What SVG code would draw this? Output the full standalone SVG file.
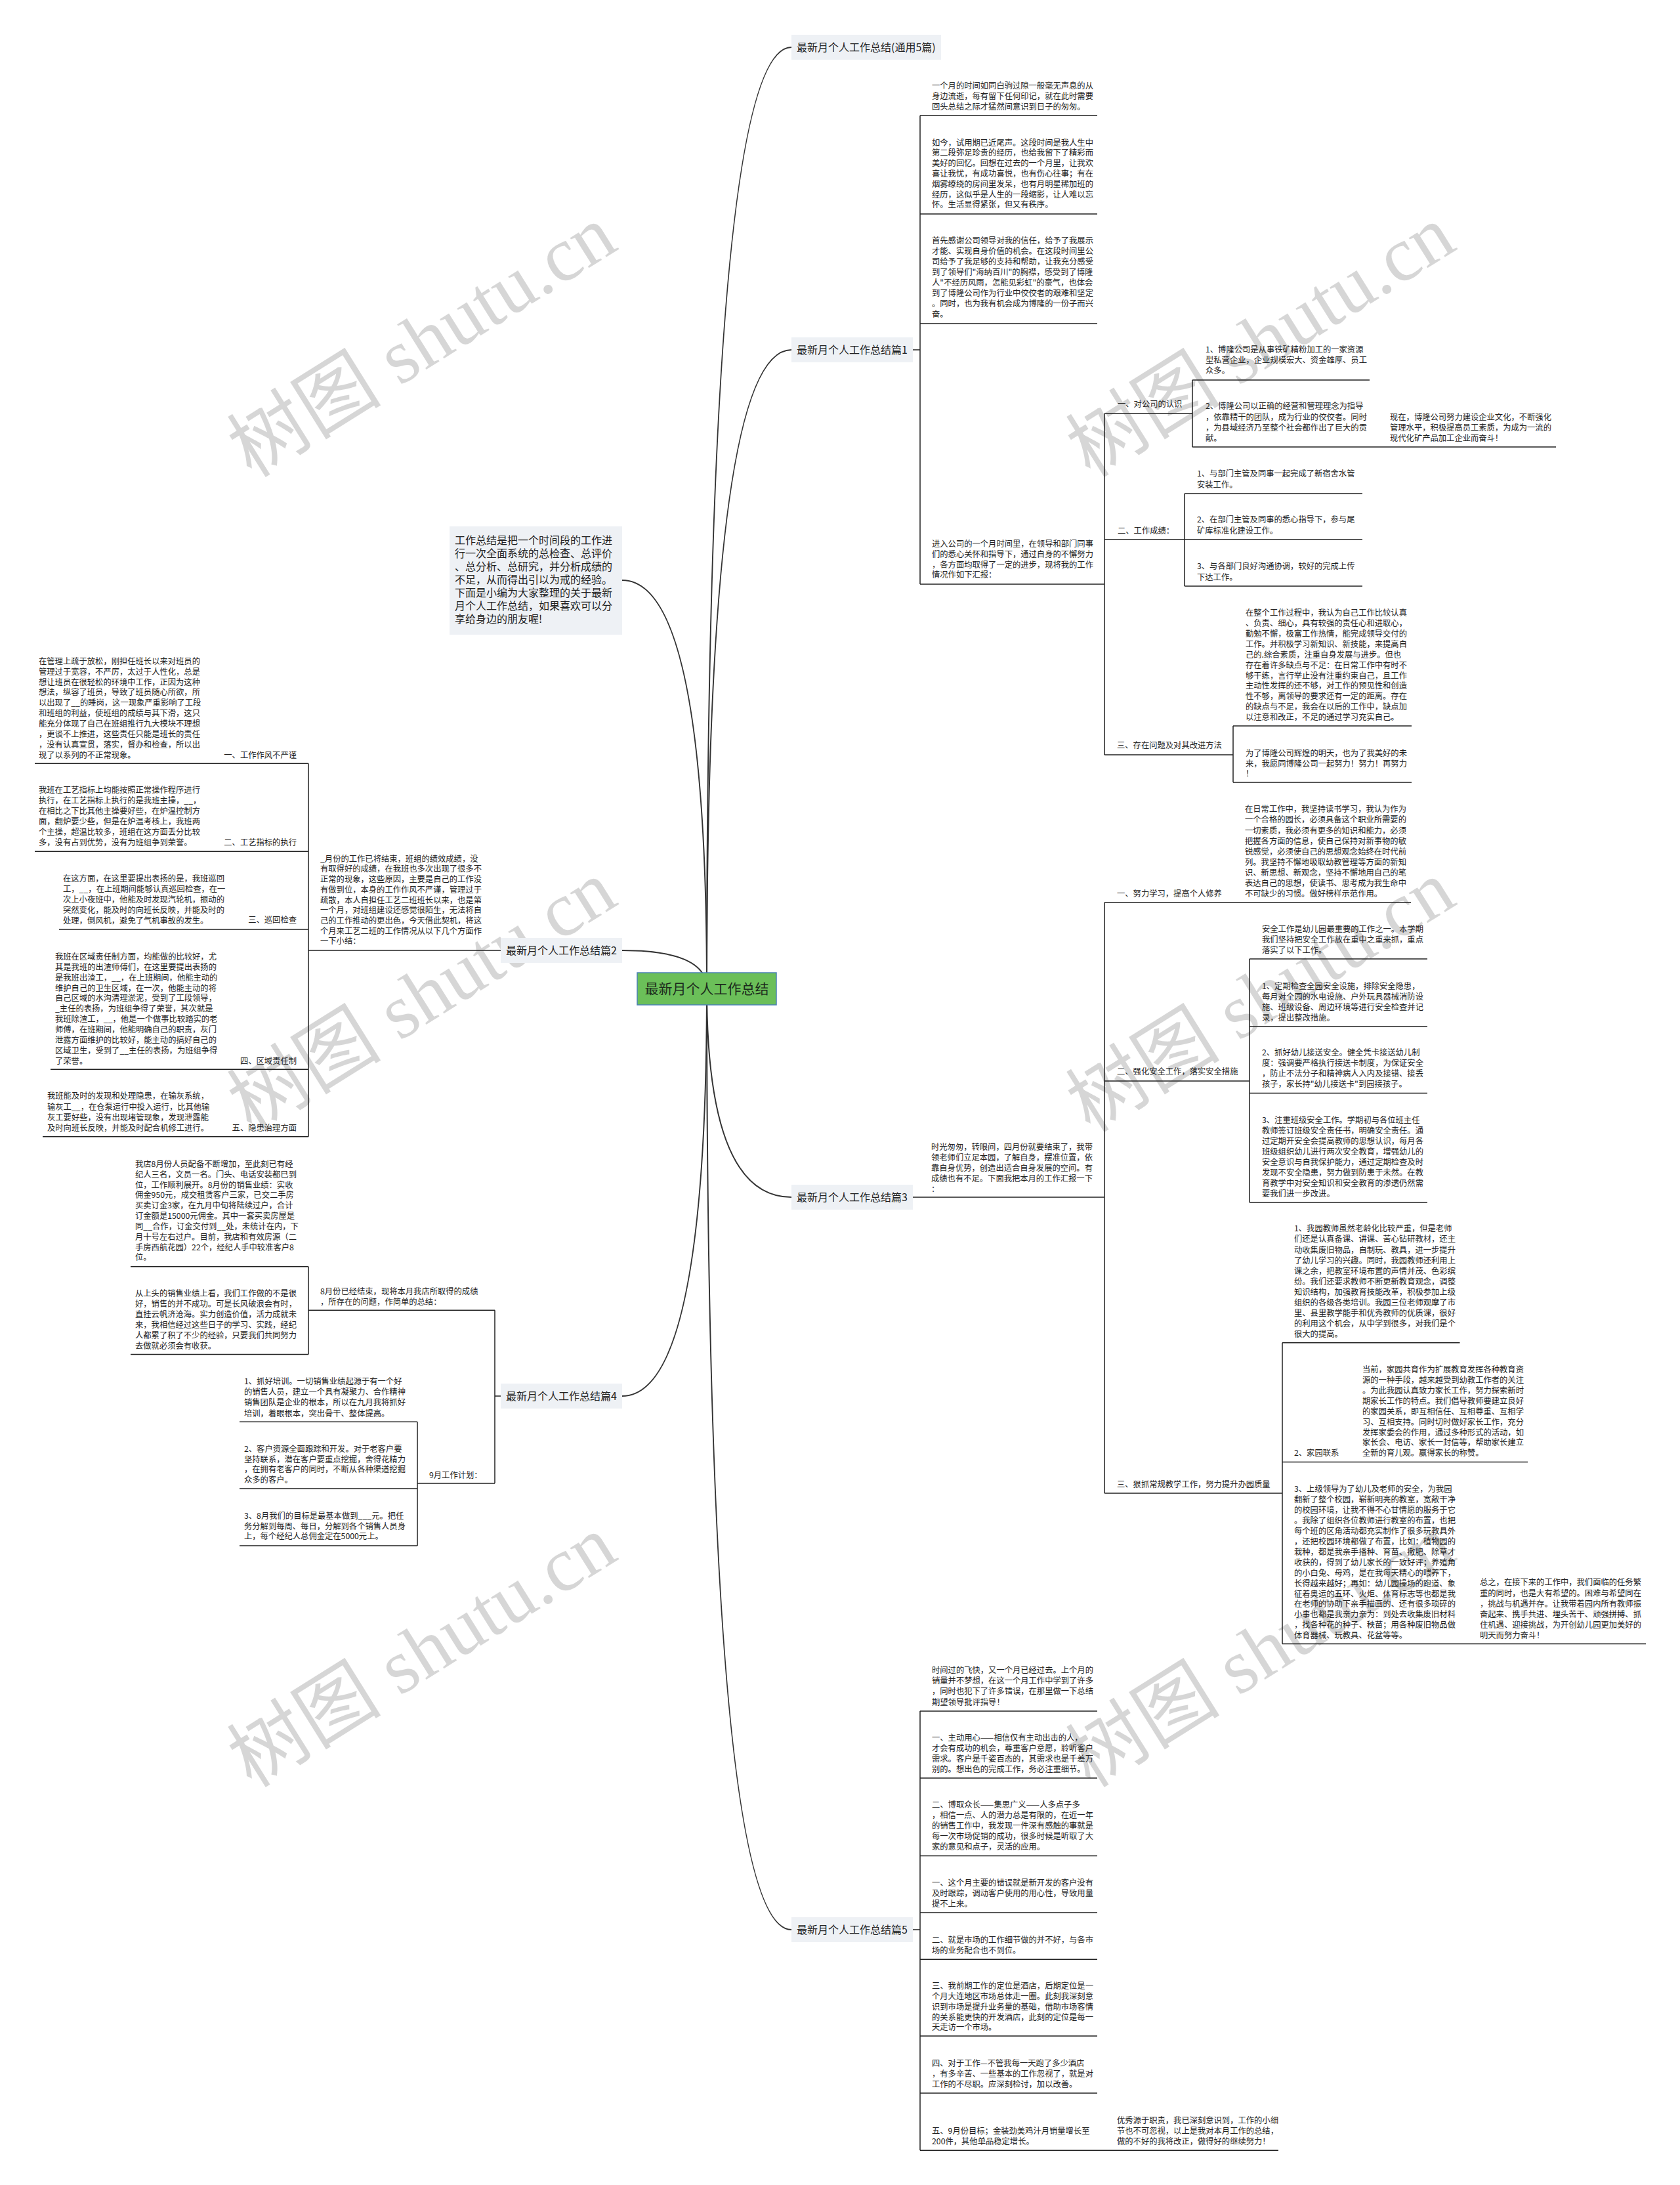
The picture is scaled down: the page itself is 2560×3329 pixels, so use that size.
<svg xmlns="http://www.w3.org/2000/svg" width="2560" height="3329" viewBox="0 0 2560 3329">
<style>
.t{font-family:"Noto Sans CJK SC","Liberation Sans",sans-serif;font-size:12.3px;fill:#222}
.lb{font-family:"Noto Sans CJK SC","Liberation Sans",sans-serif;font-size:16px;fill:#222}
.ln{fill:none;stroke:#222;stroke-width:1.5}
.cv{fill:none;stroke:#333;stroke-width:2}
.box{fill:#eef1f5}
.wm{font-family:"Liberation Serif","Noto Sans CJK SC",serif;font-size:118px;fill:#000;fill-opacity:0.16}
</style>
<rect width="2560" height="3329" fill="#fff"/>
<g id="watermarks">
<text class="wm" text-anchor="middle" transform="translate(643,520) rotate(-32)" y="40">树图 shutu.cn</text>
<text class="wm" text-anchor="middle" transform="translate(1921,520) rotate(-32)" y="40">树图 shutu.cn</text>
<text class="wm" text-anchor="middle" transform="translate(643,1518) rotate(-32)" y="40">树图 shutu.cn</text>
<text class="wm" text-anchor="middle" transform="translate(1921,1518) rotate(-32)" y="40">树图 shutu.cn</text>
<text class="wm" text-anchor="middle" transform="translate(643,2516) rotate(-32)" y="40">树图 shutu.cn</text>
<text class="wm" text-anchor="middle" transform="translate(1921,2516) rotate(-32)" y="40">树图 shutu.cn</text>
</g>
<g id="connectors">
<path class="cv" d="M1077,1506 Q1077,72 1206,72"/>
<path class="cv" d="M1077,1506 Q1077,533 1206,533"/>
<path class="cv" d="M1077,1506 Q1077,884 948,884"/>
<path class="cv" d="M1077,1506 Q1077,1448 948,1448"/>
<path class="cv" d="M1077,1506 Q1077,1824 1206,1824"/>
<path class="cv" d="M1077,1506 Q1077,2940 1206,2940"/>
<path class="cv" d="M1077,1506 Q1077,2127 948,2127"/>
<path class="ln" d="M1391,533H1402M1402,176V890M1402,176H1672M1402,326H1672M1402,493H1672M1402,890H1683M1683,630V1150M1683,630H1817M1817,579V681M1817,579H2087M1817,681H2371M1683,822H1805M1805,752V893M1805,752H2076M1805,822H2076M1805,893H2076M1683,1150H1879M1879,1106V1192M1879,1106H2151M1879,1192H2151"/>
<path class="ln" d="M1391,1824H1683M1683,1375V2275M1683,1375H2150M1683,1647H1904M1904,1461V1832M1904,1461H2175M1904,1564H2175M1904,1665.6H2175M1904,1832H2175M1683,2275H1954M1954,2045.7V2504.5M1954,2045.7H2224.5M1954,2227.5H2328M1954,2504.5H2508"/>
<path class="ln" d="M1391,2940H1402M1402,2607V3276.2M1402,2607H1672M1402,2709H1672M1402,2827.5H1672M1402,2914H1672M1402,2985.2H1672M1402,3102H1672M1402,3189H1672M1402,3276.2H1948"/>
<path class="ln" d="M470,1448H763M470,1163.3V1731.7M53,1163.3H470M53,1297.3H470M90,1416H470M77,1629.3H470M65,1731.7H470"/>
<path class="ln" d="M754,2127H763M754,1996.2V2260M470,1996.2H754M470,1929.8V2063.4M199,1929.8H470M199,2063.4H470M636,2260H754M636,2166.3V2355M365,2166.3H636M365,2267.9H636M365,2355H636"/>
</g>
<g id="center">
<rect x="971" y="1482" width="212" height="49" fill="#6bbf59" stroke="#4a80b4" stroke-width="1.5"/>
<text x="1077" y="1514" text-anchor="middle" style="font-family:'Noto Sans CJK SC','Liberation Sans',sans-serif;font-size:21px;fill:#1c2b1c">最新月个人工作总结</text>
</g>
<g id="title">
<rect class="box" x="1206" y="53" width="228" height="38"/>
<text class="lb" x="1214" y="77.7">最新月个人工作总结(通用5篇)</text>
</g>
<g id="intro">
<rect class="box" x="685" y="802" width="263" height="165"/>
<text class="lb" x="693" y="829"><tspan x="693">工作总结是把一个时间段的工作进</tspan><tspan x="693" dy="20">行一次全面系统的总检查、总评价</tspan><tspan x="693" dy="20">、总分析、总研究，并分析成绩的</tspan><tspan x="693" dy="20">不足，从而得出引以为戒的经验。</tspan><tspan x="693" dy="20">下面是小编为大家整理的关于最新</tspan><tspan x="693" dy="20">月个人工作总结，如果喜欢可以分</tspan><tspan x="693" dy="20">享给身边的朋友喔!</tspan></text>
</g>
<g id="p1">
<rect class="box" x="1206" y="514" width="185" height="38"/>
<text class="lb" x="1214" y="538.7">最新月个人工作总结篇1</text>
<text class="t" y="135.2"><tspan x="1420">一个月的时间如同白驹过隙一般毫无声息的从</tspan><tspan x="1420" dy="15.7">身边流逝，每有留下任何印记，就在此时需要</tspan><tspan x="1420" dy="15.7">回头总结之际才猛然间意识到日子的匆匆。</tspan></text>
<text class="t" y="221.5"><tspan x="1420">如今，试用期已近尾声。这段时间是我人生中</tspan><tspan x="1420" dy="15.83">第二段弥足珍贵的经历，也给我留下了精彩而</tspan><tspan x="1420" dy="15.83">美好的回忆。回想在过去的一个月里，让我欢</tspan><tspan x="1420" dy="15.83">喜让我忧，有成功喜悦，也有伤心往事；有在</tspan><tspan x="1420" dy="15.83">烟雾缭绕的房间里发呆，也有月明星稀加班的</tspan><tspan x="1420" dy="15.83">经历，这似乎是人生的一段缩影，让人难以忘</tspan><tspan x="1420" dy="15.83">怀。生活显得紧张，但又有秩序。</tspan></text>
<text class="t" y="371.4"><tspan x="1420">首先感谢公司领导对我的信任，给予了我展示</tspan><tspan x="1420" dy="16">才能、实现自身价值的机会。在这段时间里公</tspan><tspan x="1420" dy="16">司给予了我足够的支持和帮助，让我充分感受</tspan><tspan x="1420" dy="16">到了领导们"海纳百川"的胸襟，感受到了博隆</tspan><tspan x="1420" dy="16">人"不经历风雨，怎能见彩虹"的豪气，也体会</tspan><tspan x="1420" dy="16">到了博隆公司作为行业中佼佼者的艰难和坚定</tspan><tspan x="1420" dy="16">。同时，也为我有机会成为博隆的一份子而兴</tspan><tspan x="1420" dy="16">奋。</tspan></text>
<text class="t" y="833.4"><tspan x="1420">进入公司的一个月时间里，在领导和部门同事</tspan><tspan x="1420" dy="15.67">们的悉心关怀和指导下，通过自身的不懈努力</tspan><tspan x="1420" dy="15.67">，各方面均取得了一定的进步，现将我的工作</tspan><tspan x="1420" dy="15.67">情况作如下汇报：</tspan></text>
<text class="t" x="1703" y="620.4">一、对公司的认识</text>
<text class="t" y="537.4"><tspan x="1837">1、博隆公司是从事铁矿精粉加工的一家资源</tspan><tspan x="1837" dy="16">型私营企业，企业规模宏大、资金雄厚、员工</tspan><tspan x="1837" dy="16">众多。</tspan></text>
<text class="t" y="623.4"><tspan x="1837">2、博隆公司以正确的经营和管理理念为指导</tspan><tspan x="1837" dy="16.3">，依靠精干的团队，成为行业的佼佼者。同时</tspan><tspan x="1837" dy="16.3">，为县域经济乃至整个社会都作出了巨大的贡</tspan><tspan x="1837" dy="16.3">献。</tspan></text>
<text class="t" y="640"><tspan x="2118">现在，博隆公司努力建设企业文化，不断强化</tspan><tspan x="2118" dy="16.05">管理水平，积极提高员工素质，为成为一流的</tspan><tspan x="2118" dy="16.05">现代化矿产品加工企业而奋斗！</tspan></text>
<text class="t" x="1703" y="813.4">二、工作成绩：</text>
<text class="t" y="726.4"><tspan x="1824">1、与部门主管及同事一起完成了新宿舍水管</tspan><tspan x="1824" dy="16.4">安装工作。</tspan></text>
<text class="t" y="796.4"><tspan x="1824">2、在部门主管及同事的悉心指导下，参与尾</tspan><tspan x="1824" dy="16.4">矿库标准化建设工作。</tspan></text>
<text class="t" y="867.4"><tspan x="1824">3、与各部门良好沟通协调，较好的完成上传</tspan><tspan x="1824" dy="16.4">下达工作。</tspan></text>
<text class="t" x="1702" y="1140.4">三、存在问题及对其改进方法</text>
<text class="t" y="938.4"><tspan x="1898">在整个工作过程中，我认为自己工作比较认真</tspan><tspan x="1898" dy="15.85">、负责、细心，具有较强的责任心和进取心，</tspan><tspan x="1898" dy="15.85">勤勉不懈，极富工作热情，能完成领导交付的</tspan><tspan x="1898" dy="15.85">工作。并积极学习新知识、新技能，来提高自</tspan><tspan x="1898" dy="15.85">己的.综合素质，注重自身发展与进步。但也</tspan><tspan x="1898" dy="15.85">存在着许多缺点与不足：在日常工作中有时不</tspan><tspan x="1898" dy="15.85">够干练，言行举止没有注重约束自己，且工作</tspan><tspan x="1898" dy="15.85">主动性发挥的还不够，对工作的预见性和创造</tspan><tspan x="1898" dy="15.85">性不够，离领导的要求还有一定的距离。存在</tspan><tspan x="1898" dy="15.85">的缺点与不足，我会在以后的工作中，缺点加</tspan><tspan x="1898" dy="15.85">以注意和改正，不足的通过学习充实自己。</tspan></text>
<text class="t" y="1152.4"><tspan x="1898">为了博隆公司辉煌的明天，也为了我美好的未</tspan><tspan x="1898" dy="15.5">来，我愿同博隆公司一起努力！努力！再努力</tspan><tspan x="1898" dy="15.5">！</tspan></text>
</g>
<g id="p3">
<rect class="box" x="1206" y="1805" width="185" height="38"/>
<text class="lb" x="1214" y="1829.7">最新月个人工作总结篇3</text>
<text class="t" y="1752.4"><tspan x="1419">时光匆匆，转眼间，四月份就要结束了，我带</tspan><tspan x="1419" dy="15.9">领老师们立足本园，了解自身，摆准位置，依</tspan><tspan x="1419" dy="15.9">靠自身优势，创造出适合自身发展的空间。有</tspan><tspan x="1419" dy="15.9">成绩也有不足。下面我把本月的工作汇报一下</tspan><tspan x="1419" dy="15.9">：</tspan></text>
<text class="t" x="1702" y="1366.1">一、努力学习，提高个人修养</text>
<text class="t" y="1237.4"><tspan x="1897">在日常工作中，我坚持读书学习，我认为作为</tspan><tspan x="1897" dy="16.08">一个合格的园长，必须具备这个职业所需要的</tspan><tspan x="1897" dy="16.08">一切素质，我必须有更多的知识和能力，必须</tspan><tspan x="1897" dy="16.08">把握各方面的信息，使自己保持对新事物的敏</tspan><tspan x="1897" dy="16.08">锐感觉，必须使自己的思想观念始终在时代前</tspan><tspan x="1897" dy="16.08">列。我坚持不懈地吸取幼教管理等方面的新知</tspan><tspan x="1897" dy="16.08">识、新思想、新观念，坚持不懈地用自己的笔</tspan><tspan x="1897" dy="16.08">表达自己的思想，使读书、思考成为我生命中</tspan><tspan x="1897" dy="16.08">不可缺少的习惯。做好榜样示范作用。</tspan></text>
<text class="t" x="1702" y="1637.4">二、强化安全工作，落实安全措施</text>
<text class="t" y="1420"><tspan x="1923">安全工作是幼儿园最重要的工作之一。本学期</tspan><tspan x="1923" dy="16.2">我们坚持把安全工作放在重中之重来抓，重点</tspan><tspan x="1923" dy="16.2">落实了以下工作。</tspan></text>
<text class="t" y="1507.1"><tspan x="1923">1、定期检查全园安全设施，排除安全隐患，</tspan><tspan x="1923" dy="15.87">每月对全园的水电设施、户外玩具器械消防设</tspan><tspan x="1923" dy="15.87">施、班级设备、周边环境等进行安全检查并记</tspan><tspan x="1923" dy="15.87">录，提出整改措施。</tspan></text>
<text class="t" y="1608.4"><tspan x="1923">2、抓好幼儿接送安全。健全凭卡接送幼儿制</tspan><tspan x="1923" dy="16">度：强调要严格执行接送卡制度，为保证安全</tspan><tspan x="1923" dy="16">，防止不法分子和精神病人入内及接错、接丢</tspan><tspan x="1923" dy="16">孩子，家长持"幼儿接送卡"到园接孩子。</tspan></text>
<text class="t" y="1711"><tspan x="1923">3、注重班级安全工作。学期初与各位班主任</tspan><tspan x="1923" dy="16">教师签订班级安全责任书，明确安全责任。通</tspan><tspan x="1923" dy="16">过定期开安全会提高教师的思想认识，每月各</tspan><tspan x="1923" dy="16">班级组织幼儿进行两次安全教育，增强幼儿的</tspan><tspan x="1923" dy="16">安全意识与自我保护能力，通过定期检查及时</tspan><tspan x="1923" dy="16">发现不安全隐患，努力做到防患于未然。在教</tspan><tspan x="1923" dy="16">育教学中对安全知识和安全教育的渗透仍然需</tspan><tspan x="1923" dy="16">要我们进一步改进。</tspan></text>
<text class="t" x="1702" y="2266">三、狠抓常规教学工作，努力提升办园质量</text>
<text class="t" y="1876.3"><tspan x="1972">1、我园教师虽然老龄化比较严重，但是老师</tspan><tspan x="1972" dy="16.11">们还是认真备课、讲课、苦心钻研教材，还主</tspan><tspan x="1972" dy="16.11">动收集废旧物品，自制玩、教具，进一步提升</tspan><tspan x="1972" dy="16.11">了幼儿学习的兴趣。同时，我园教师还利用上</tspan><tspan x="1972" dy="16.11">课之余，把教室环境布置的声情并茂、色彩缤</tspan><tspan x="1972" dy="16.11">纷。我们还要求教师不断更新教育观念，调整</tspan><tspan x="1972" dy="16.11">知识结构，加强教育技能改革，积极参加上级</tspan><tspan x="1972" dy="16.11">组织的各级各类培训。我园三位老师观摩了市</tspan><tspan x="1972" dy="16.11">里、县里教学能手和优秀教师的优质课，很好</tspan><tspan x="1972" dy="16.11">的利用这个机会，从中学到很多，对我们是个</tspan><tspan x="1972" dy="16.11">很大的提高。</tspan></text>
<text class="t" x="1972" y="2218.4">2、家园联系</text>
<text class="t" y="2090.9"><tspan x="2076">当前，家园共育作为扩展教育发挥各种教育资</tspan><tspan x="2076" dy="15.94">源的一种手段，越来越受到幼教工作者的关注</tspan><tspan x="2076" dy="15.94">。为此我园认真致力家长工作，努力探索新时</tspan><tspan x="2076" dy="15.94">期家长工作的特点。我们倡导教师要建立良好</tspan><tspan x="2076" dy="15.94">的家园关系，即互相信任、互相尊重、互相学</tspan><tspan x="2076" dy="15.94">习、互相支持。同时切时做好家长工作，充分</tspan><tspan x="2076" dy="15.94">发挥家委会的作用，通过多种形式的活动，如</tspan><tspan x="2076" dy="15.94">家长会、电访、家长一封信等，帮助家长建立</tspan><tspan x="2076" dy="15.94">全新的育儿观。赢得家长的称赞。</tspan></text>
<text class="t" y="2273.2"><tspan x="1972">3、上级领导为了幼儿及老师的安全，为我园</tspan><tspan x="1972" dy="15.93">翻新了整个校园，崭新明亮的教室，宽敞干净</tspan><tspan x="1972" dy="15.93">的校园环境，让我不得不心甘情愿的服务于它</tspan><tspan x="1972" dy="15.93">。我除了组织各位教师进行教室的布置，也把</tspan><tspan x="1972" dy="15.93">每个班的区角活动都充实制作了很多玩教具外</tspan><tspan x="1972" dy="15.93">，还把校园环境都做了布置，比如：植物园的</tspan><tspan x="1972" dy="15.93">栽种，都是我亲手播种、育苗、撒肥、除草才</tspan><tspan x="1972" dy="15.93">收获的，得到了幼儿家长的一致好评；养殖角</tspan><tspan x="1972" dy="15.93">的小白兔、母鸡，是在我每天精心的喂养下，</tspan><tspan x="1972" dy="15.93">长得越来越好；再如：幼儿园操场的跑道、象</tspan><tspan x="1972" dy="15.93">征着奥运的五环、火炬、体育标志等也都是我</tspan><tspan x="1972" dy="15.93">在老师的协助下亲手描画的、还有很多琐碎的</tspan><tspan x="1972" dy="15.93">小事也都是我亲力亲为：到处去收集废旧材料</tspan><tspan x="1972" dy="15.93">，找各种花的种子、秧苗；用各种废旧物品做</tspan><tspan x="1972" dy="15.93">体育器械、玩教具、花盆等等。</tspan></text>
<text class="t" y="2415.4"><tspan x="2255">总之，在接下来的工作中，我们面临的任务繁</tspan><tspan x="2255" dy="16.16">重的同时，也是大有希望的。困难与希望同在</tspan><tspan x="2255" dy="16.16">，挑战与机遇并存。让我带着园内所有教师振</tspan><tspan x="2255" dy="16.16">奋起来、携手共进、埋头苦干、顽强拼搏、抓</tspan><tspan x="2255" dy="16.16">住机遇、迎接挑战，为开创幼儿园更加美好的</tspan><tspan x="2255" dy="16.16">明天而努力奋斗！</tspan></text>
</g>
<g id="p5">
<rect class="box" x="1206" y="2921" width="185" height="38"/>
<text class="lb" x="1214" y="2945.7">最新月个人工作总结篇5</text>
<text class="t" y="2549.3"><tspan x="1420">时间过的飞快，又一个月已经过去。上个月的</tspan><tspan x="1420" dy="16.07">销量并不梦想，在这一个月工作中学到了许多</tspan><tspan x="1420" dy="16.07">，同时也犯下了许多错误，在那里做一下总结</tspan><tspan x="1420" dy="16.07">期望领导批评指导！</tspan></text>
<text class="t" y="2652.3"><tspan x="1420">一、主动用心——相信仅有主动出击的人，</tspan><tspan x="1420" dy="15.9">才会有成功的机会，尊重客户意愿，聆听客户</tspan><tspan x="1420" dy="15.9">需求。客户是千姿百态的，其需求也是千差万</tspan><tspan x="1420" dy="15.9">别的。想出色的完成工作，务必注重细节。</tspan></text>
<text class="t" y="2754.3"><tspan x="1420">二、博取众长——集思广义——人多点子多</tspan><tspan x="1420" dy="15.9">，相信一点、人的潜力总是有限的，在近一年</tspan><tspan x="1420" dy="15.9">的销售工作中，我发现一件深有感触的事就是</tspan><tspan x="1420" dy="15.9">每一次市场促销的成功，很多时候是听取了大</tspan><tspan x="1420" dy="15.9">家的意见和点子，灵活的应用。</tspan></text>
<text class="t" y="2872.7"><tspan x="1420">一、这个月主要的错误就是新开发的客户没有</tspan><tspan x="1420" dy="16.15">及时跟踪，调动客户使用的用心性，导致用量</tspan><tspan x="1420" dy="16.15">提不上来。</tspan></text>
<text class="t" y="2959.7"><tspan x="1420">二、就是市场的工作细节做的并不好，与各市</tspan><tspan x="1420" dy="15.9">场的业务配合也不到位。</tspan></text>
<text class="t" y="3030.4"><tspan x="1420">三、我前期工作的定位是酒店，后期定位是一</tspan><tspan x="1420" dy="15.7">个月大连地区市场总体走一圈。此刻我深刻意</tspan><tspan x="1420" dy="15.7">识到市场是提升业务量的基础，借助市场客情</tspan><tspan x="1420" dy="15.7">的关系能更快的开发酒店，此刻的定位是每一</tspan><tspan x="1420" dy="15.7">天走访一个市场。</tspan></text>
<text class="t" y="3147.8"><tspan x="1420">四、对于工作—不管我每一天跑了多少酒店</tspan><tspan x="1420" dy="16.15">，有多辛苦、一些基本的工作忽视了，就是对</tspan><tspan x="1420" dy="16.15">工作的不尽职。应深刻检讨，加以改善。</tspan></text>
<text class="t" y="3250.8"><tspan x="1420">五、9月份目标；金装劲美鸡汁月销量增长至</tspan><tspan x="1420" dy="15.9">200件，其他单品稳定增长。</tspan></text>
<text class="t" y="3234.9"><tspan x="1702">优秀源于职责，我已深刻意识到，工作的小细</tspan><tspan x="1702" dy="15.9">节也不可忽视，以上是我对本月工作的总结，</tspan><tspan x="1702" dy="15.9">做的不好的我将改正，做得好的继续努力！</tspan></text>
</g>
<g id="p2">
<rect class="box" x="763" y="1429" width="185" height="38"/>
<text class="lb" x="771" y="1453.7">最新月个人工作总结篇2</text>
<text class="t" y="1312.7"><tspan x="488">_月份的工作已将结束，班组的绩效成绩，没</tspan><tspan x="488" dy="15.71">有取得好的成绩，在我班也多次出现了很多不</tspan><tspan x="488" dy="15.71">正常的现象，这些原因，主要是自己的工作没</tspan><tspan x="488" dy="15.71">有做到位，本身的工作作风不严谨，管理过于</tspan><tspan x="488" dy="15.71">疏散，本人自担任工艺二班班长以来，也是第</tspan><tspan x="488" dy="15.71">一个月，对班组建设还感觉很陌生，无法将自</tspan><tspan x="488" dy="15.71">己的工作推动的更出色，今天借此契机，将这</tspan><tspan x="488" dy="15.71">个月来工艺二班的工作情况从以下几个方面作</tspan><tspan x="488" dy="15.71">一下小结：</tspan></text>
<text class="t" x="452" y="1155.1" text-anchor="end">一、工作作风不严谨</text>
<text class="t" y="1011.7"><tspan x="59">在管理上疏于放松，刚担任班长以来对班员的</tspan><tspan x="59" dy="15.93">管理过于宽容，不严厉，太过于人性化，总是</tspan><tspan x="59" dy="15.93">想让班员在很轻松的环境中工作，正因为这种</tspan><tspan x="59" dy="15.93">想法，纵容了班员，导致了班员随心所欲，所</tspan><tspan x="59" dy="15.93">以出现了__的睡岗，这一现象严重影响了工段</tspan><tspan x="59" dy="15.93">和班组的利益，使班组的成绩与其下滑，这只</tspan><tspan x="59" dy="15.93">能充分体现了自己在班组推行九大模块不理想</tspan><tspan x="59" dy="15.93">，更谈不上推进，这些责任只能是班长的责任</tspan><tspan x="59" dy="15.93">，没有认真宣贯，落实，督办和检查，所以出</tspan><tspan x="59" dy="15.93">现了以系列的不正常现象。</tspan></text>
<text class="t" x="452" y="1288.4" text-anchor="end">二、工艺指标的执行</text>
<text class="t" y="1208.4"><tspan x="59">我班在工艺指标上均能按照正常操作程序进行</tspan><tspan x="59" dy="16">执行，在工艺指标上执行的是我班主操，__，</tspan><tspan x="59" dy="16">在相比之下比其他主操要好些，在炉温控制方</tspan><tspan x="59" dy="16">面，翻炉要少些，但是在炉温考核上，我班两</tspan><tspan x="59" dy="16">个主操，超温比较多，班组在这方面丢分比较</tspan><tspan x="59" dy="16">多，没有占到优势，没有为班组争到荣誉。</tspan></text>
<text class="t" x="452" y="1406.4" text-anchor="end">三、巡回检查</text>
<text class="t" y="1342.7"><tspan x="96">在这方面，在这里要提出表扬的是，我班巡回</tspan><tspan x="96" dy="16">工，__，在上班期间能够认真巡回检查，在一</tspan><tspan x="96" dy="16">次上小夜班中，他能及时发现汽轮机，振动的</tspan><tspan x="96" dy="16">突然变化，能及时的向班长反映，并能及时的</tspan><tspan x="96" dy="16">处理，倒风机，避免了气机事故的发生。</tspan></text>
<text class="t" x="452" y="1621.1" text-anchor="end">四、区域责任制</text>
<text class="t" y="1461.7"><tspan x="84">我班在区域责任制方面，均能做的比较好，尤</tspan><tspan x="84" dy="15.94">其是我班的出渣师傅们，在这里要提出表扬的</tspan><tspan x="84" dy="15.94">是我班出渣工，__，在上班期间，他能主动的</tspan><tspan x="84" dy="15.94">维护自己的卫生区域，在一次，他能主动的将</tspan><tspan x="84" dy="15.94">自己区域的水沟清理淤泥，受到了工段领导，</tspan><tspan x="84" dy="15.94">_主任的表扬，为班组争得了荣誉，其次就是</tspan><tspan x="84" dy="15.94">我班除渣工，__，他是一个做事比较踏实的老</tspan><tspan x="84" dy="15.94">师傅，在班期间，他能明确自己的职责，灰门</tspan><tspan x="84" dy="15.94">泄露方面维护的比较好，能主动的搞好自己的</tspan><tspan x="84" dy="15.94">区域卫生，受到了__主任的表扬，为班组争得</tspan><tspan x="84" dy="15.94">了荣誉。</tspan></text>
<text class="t" x="452" y="1722.7" text-anchor="end">五、隐患治理方面</text>
<text class="t" y="1674.4"><tspan x="72">我班能及时的发现和处理隐患，在输灰系统，</tspan><tspan x="72" dy="16.1">输灰工__，在仓泵运行中投入运行，比其他输</tspan><tspan x="72" dy="16.1">灰工要好些，没有出现堵管现象，发现泄露能</tspan><tspan x="72" dy="16.1">及时向班长反映，并能及时配合机修工进行。</tspan></text>
</g>
<g id="p4">
<rect class="box" x="763" y="2108" width="185" height="38"/>
<text class="lb" x="771" y="2132.7">最新月个人工作总结篇4</text>
<text class="t" y="1971.8"><tspan x="488">8月份已经结束，现将本月我店所取得的成绩</tspan><tspan x="488" dy="15.8">，所存在的问题，作简单的总结：</tspan></text>
<text class="t" y="1778"><tspan x="206">我店8月份人员配备不断增加，至此刻已有经</tspan><tspan x="206" dy="15.82">纪人三名，文员一名。门头、电话安装都已到</tspan><tspan x="206" dy="15.82">位，工作顺利展开。8月份的销售业绩：实收</tspan><tspan x="206" dy="15.82">佣金950元，成交租赁客户三家，已交二手房</tspan><tspan x="206" dy="15.82">买卖订金3家，在九月中旬将陆续过户，合计</tspan><tspan x="206" dy="15.82">订金额是15000元佣金。其中一套买卖房屋是</tspan><tspan x="206" dy="15.82">同__合作，订金交付到__处，未统计在内，下</tspan><tspan x="206" dy="15.82">月十号左右过户。目前，我店和有效房源（二</tspan><tspan x="206" dy="15.82">手房西航花园）22个，经纪人手中较准客户8</tspan><tspan x="206" dy="15.82">位。</tspan></text>
<text class="t" y="1974.9"><tspan x="206">从上头的销售业绩上看，我们工作做的不是很</tspan><tspan x="206" dy="15.98">好，销售的并不成功。可是长风破浪会有时，</tspan><tspan x="206" dy="15.98">直挂云帆济沧海。实力创造价值，活力成就未</tspan><tspan x="206" dy="15.98">来，我相信经过这些日子的学习、实践，经纪</tspan><tspan x="206" dy="15.98">人都累了积了不少的经验，只要我们共同努力</tspan><tspan x="206" dy="15.98">去做就必须会有收获。</tspan></text>
<text class="t" x="654" y="2251.7">9月工作计划：</text>
<text class="t" y="2109"><tspan x="372">1、抓好培训。一切销售业绩起源于有一个好</tspan><tspan x="372" dy="16.2">的销售人员，建立一个具有凝聚力、合作精神</tspan><tspan x="372" dy="16.2">销售团队是企业的根本，所以在九月我将抓好</tspan><tspan x="372" dy="16.2">培训，着眼根本，突出骨干、整体提高。</tspan></text>
<text class="t" y="2211.8"><tspan x="372">2、客户资源全面跟踪和开发。对于老客户要</tspan><tspan x="372" dy="15.8">坚持联系，潜在客户要重点挖掘，舍得花精力</tspan><tspan x="372" dy="15.8">，在拥有老客户的同时，不断从各种渠道挖掘</tspan><tspan x="372" dy="15.8">众多的客户。</tspan></text>
<text class="t" y="2313.8"><tspan x="372">3、8月我们的目标是最基本做到___元。把任</tspan><tspan x="372" dy="15.8">务分解到每周、每日，分解到各个销售人员身</tspan><tspan x="372" dy="15.8">上，每个经纪人总佣金定在5000元上。</tspan></text>
</g>
</svg>
